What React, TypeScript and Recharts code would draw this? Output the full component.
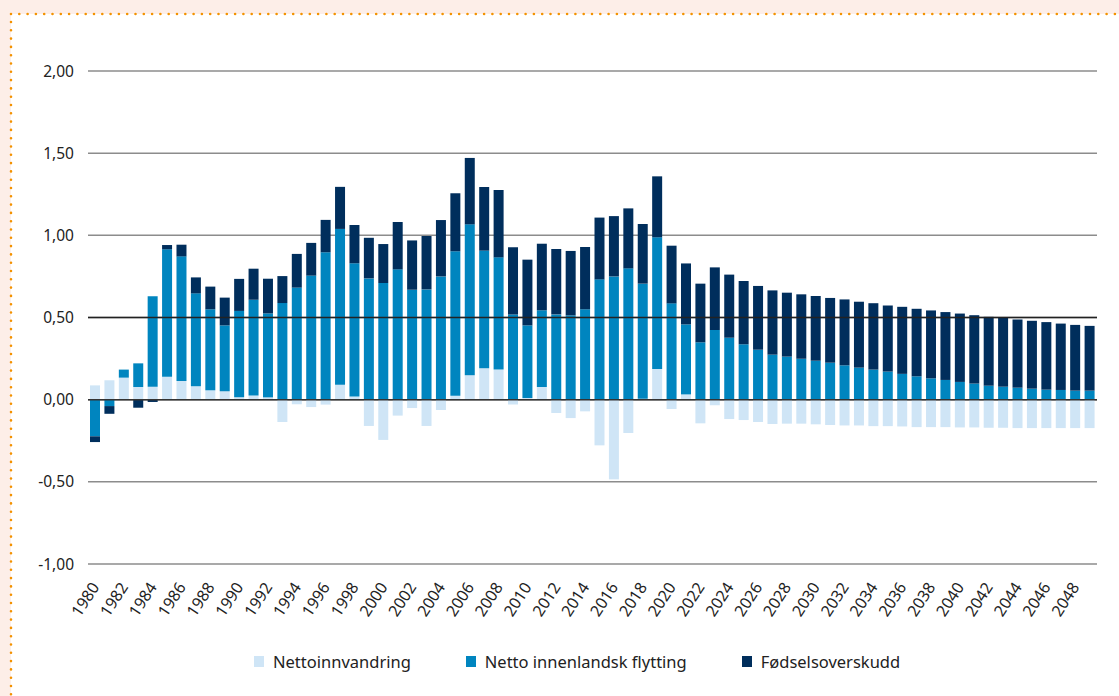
import { Bar, BarChart, CartesianGrid, ReferenceLine, XAxis, YAxis } from "recharts";

const years = Array.from({ length: 70 }, (_, i) => String(1980 + i));

// Nettoinnvandring
const netImmigration = [
  0.087, 0.118, 0.134, 0.077, 0.079, 0.14, 0.114, 0.081, 0.057, 0.051,
  0.014, 0.026, 0.014, -0.136, -0.028, -0.045, -0.03, 0.091, 0.02, -0.16,
  -0.245, -0.097, -0.051, -0.16, -0.063, 0.024, 0.148, 0.191, 0.183, -0.03,
  0.01, 0.077, -0.081, -0.112, -0.071, -0.278, -0.485, -0.203, 0.005, 0.187,
  -0.057, 0.032, -0.144, -0.034, -0.118, -0.124, -0.136, -0.148, -0.146, -0.146,
  -0.15, -0.154, -0.157, -0.157, -0.161, -0.161, -0.163, -0.167, -0.167, -0.167,
  -0.169, -0.169, -0.171, -0.171, -0.173, -0.173, -0.173, -0.173, -0.173, -0.173,
];

// Netto innenlandsk flytting
const domesticMigration = [
  -0.223, -0.039, 0.049, 0.144, 0.55, 0.775, 0.758, 0.566, 0.493, 0.401,
  0.526, 0.582, 0.511, 0.588, 0.682, 0.755, 0.897, 0.948, 0.81, 0.738,
  0.71, 0.793, 0.669, 0.671, 0.75, 0.879, 0.919, 0.716, 0.683, 0.519,
  0.442, 0.467, 0.519, 0.513, 0.55, 0.732, 0.75, 0.799, 0.701, 0.801,
  0.586, 0.426, 0.349, 0.424, 0.377, 0.337, 0.304, 0.274, 0.262, 0.249,
  0.237, 0.225, 0.209, 0.195, 0.183, 0.171, 0.157, 0.142, 0.13, 0.12,
  0.108, 0.098, 0.085, 0.079, 0.073, 0.067, 0.061, 0.059, 0.055, 0.055,
];

// Fødselsoverskudd
const birthSurplus = [
  -0.035, -0.047, 0, -0.049, -0.014, 0.026, 0.071, 0.097, 0.138, 0.169,
  0.195, 0.189, 0.211, 0.164, 0.205, 0.199, 0.197, 0.256, 0.233, 0.247,
  0.237, 0.288, 0.3, 0.325, 0.343, 0.353, 0.404, 0.387, 0.41, 0.408,
  0.4, 0.405, 0.398, 0.392, 0.379, 0.376, 0.367, 0.365, 0.363, 0.371,
  0.351, 0.371, 0.357, 0.381, 0.384, 0.385, 0.388, 0.391, 0.389, 0.392,
  0.394, 0.394, 0.401, 0.401, 0.404, 0.402, 0.408, 0.411, 0.413, 0.413,
  0.416, 0.416, 0.419, 0.421, 0.415, 0.413, 0.411, 0.404, 0.4, 0.394,
];

const yTicks = [-1, -0.5, 0, 0.5, 1, 1.5, 2];

const series = [
  { key: "imm", name: "Nettoinnvandring", color: "#cfe5f6" },
  { key: "dom", name: "Netto innenlandsk flytting", color: "#0085bf" },
  { key: "birth", name: "Fødselsoverskudd", color: "#002e5c" },
];

const data = years.map((year, i) => ({
  year,
  imm: netImmigration[i],
  dom: domesticMigration[i],
  birth: birthSurplus[i],
}));

const FONT = "'Noto Sans', 'Open Sans', sans-serif";

function YearTick({ x, y, payload }: any) {
  return (
    <text
      x={x}
      y={y}
      dy="0.35em"
      textAnchor="end"
      transform={`rotate(-57, ${x}, ${y})`}
      fontSize={16}
      fill="#222"
      fontFamily={FONT}
    >
      {payload.value}
    </text>
  );
}

export default function App() {
  return (
    <div
      style={{
        position: "absolute",
        left: 0,
        top: 0,
        width: 1119,
        height: 696,
        background: "#fdeee8",
        overflow: "hidden",
        fontFamily: FONT,
      }}
    >
      <div
        style={{
          position: "absolute",
          left: 11,
          top: 14,
          right: 0,
          bottom: 0,
          background: "#fff",
        }}
      />
      <svg
        width={1119}
        height={696}
        style={{ position: "absolute", left: 0, top: 0 }}
      >
        <line x1={11} y1={14} x2={1119} y2={14} stroke="#f39200" strokeWidth={2.6} strokeLinecap="round" strokeDasharray="0 8.3" />
        <line x1={11} y1={22} x2={11} y2={696} stroke="#f39200" strokeWidth={2.6} strokeLinecap="round" strokeDasharray="0 8.3" />
      </svg>

      <div style={{ position: "absolute", left: 0, top: 0 }}>
        <BarChart
          width={1119}
          height={696}
          data={data}
          stackOffset="sign"
          barSize={10}
          margin={{ top: 71, right: 22, bottom: 72, left: 0 }}
        >
          <CartesianGrid vertical={false} stroke="#8c8c8c" strokeWidth={1.5} />
          <XAxis
            dataKey="year"
            interval={1}
            tickLine={false}
            axisLine={false}
            tickSize={0}
            tickMargin={20}
            height={60}
            tick={<YearTick />}
          />
          <YAxis
            domain={[-1, 2]}
            ticks={yTicks}
            tickLine={false}
            axisLine={false}
            width={88}
            tickMargin={8}
            tick={{ fontSize: 15.5, fill: "#222", fontFamily: FONT }}
            tickFormatter={(v: number) => v.toFixed(2).replace(".", ",")}
          />
          <ReferenceLine y={0.5} stroke="#222" strokeWidth={1.3} />
          {series.map((s) => (
            <Bar
              key={s.key}
              dataKey={s.key}
              name={s.name}
              stackId="a"
              fill={s.color}
              isAnimationActive={false}
            />
          ))}
          <ReferenceLine y={0} stroke="#333" strokeWidth={1.5} />
        </BarChart>
      </div>

      <div
        style={{
          position: "absolute",
          left: 254,
          top: 650,
          display: "flex",
          alignItems: "center",
          gap: 55,
          fontSize: 16.5,
          color: "#222",
        }}
      >
        {series.map((s) => (
          <div key={s.key} style={{ display: "flex", alignItems: "center" }}>
            <span
              style={{
                display: "inline-block",
                width: 10,
                height: 11,
                background: s.color,
                marginRight: 9,
              }}
            />
            <span>{s.name}</span>
          </div>
        ))}
      </div>
    </div>
  );
}
